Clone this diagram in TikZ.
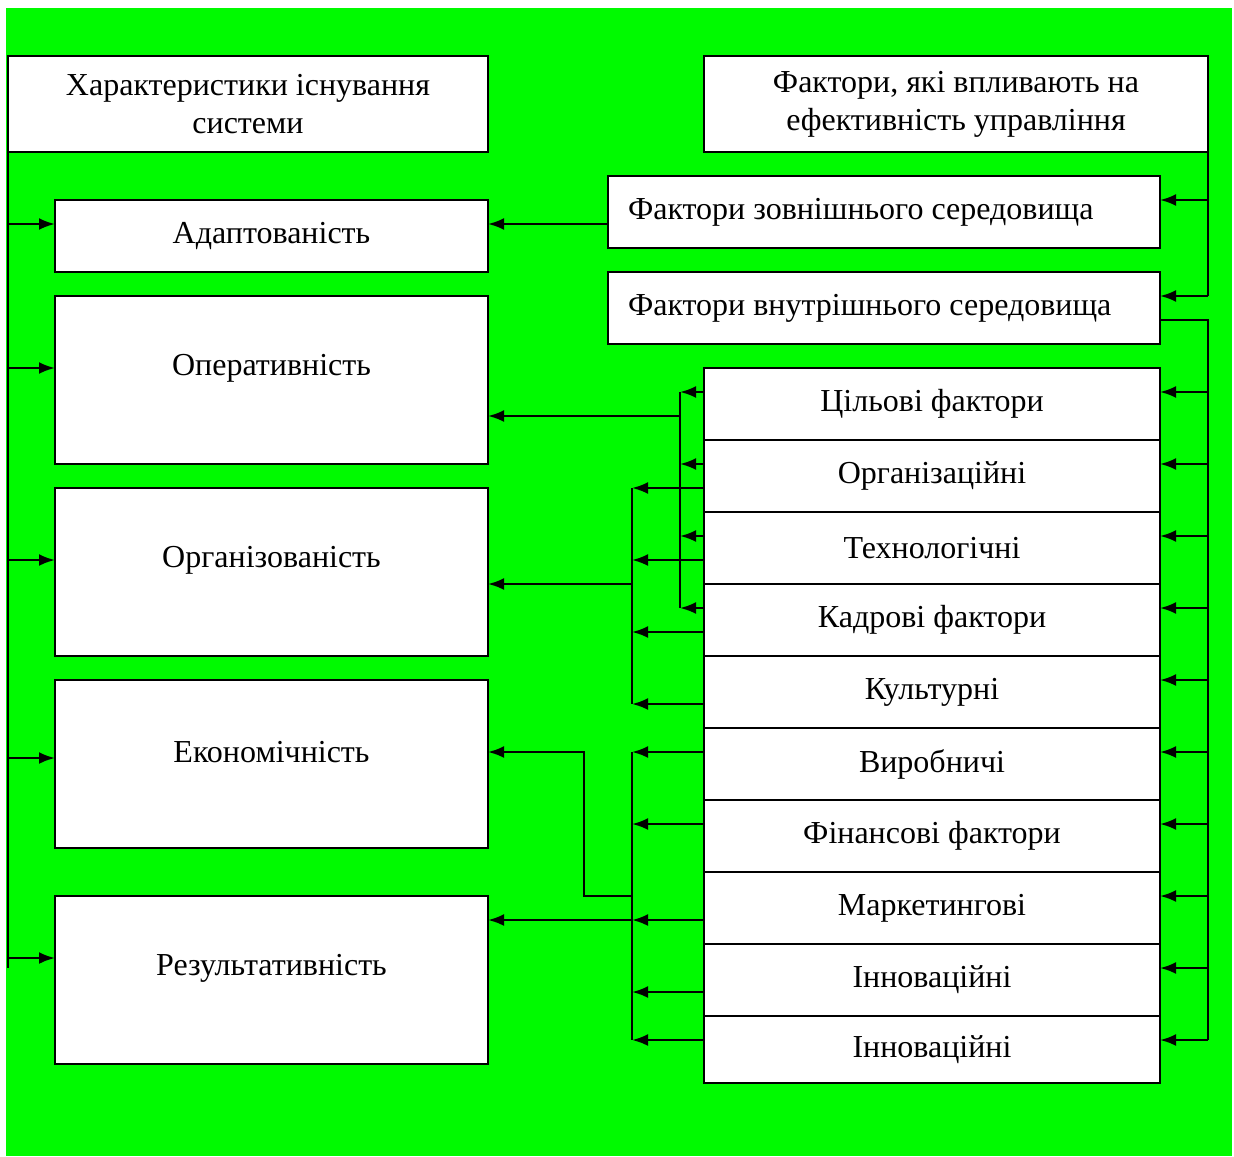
\documentclass[tikz,border=0pt]{standalone}
\usepackage{fontspec}
\setmainfont{Liberation Serif}
\usetikzlibrary{ positioning, % For the stacked factor boxes
                 arrows.meta,
               }
\definecolor{bggreen}{RGB}{0,250,0}
\tikzstyle{box} = [rectangle, draw=black, fill=white, line width=1.2pt, outer sep=0pt, align=center, font=\fontsize{16}{19}\selectfont]
\tikzstyle{title} = [box, minimum height=48pt]
\tikzstyle{prop} = [box, minimum width=216.5pt]
\tikzstyle{env} = [box, minimum height=36pt, text width=256pt, inner xsep=10pt, align=flush left]
\tikzstyle{factor} = [box, minimum width=228pt, minimum height=36pt]
\tikzstyle{proptext} = [anchor=center, yshift=-36pt, font=\fontsize{16}{19}\selectfont]
\tikzstyle{line} = [line width=1.2pt]
\tikzstyle{conn} = [line, ->, >={Latex[length=8pt,width=6pt]}]

\begin{document}
\begin{tikzpicture}[x=0.5pt, y=-0.5pt]
  \useasboundingbox (0,0) rectangle (1234,1156);
  \fill[white] (0,0) rectangle (1234,1156);
  \fill[bggreen] (6,8) rectangle (1232,1156);

  % left column: characteristics
  \node (tl) [title, minimum width=240pt] at (248,104) {Характеристики існування\\системи};
  \node (ad) [prop, minimum height=36pt] at (271.5,236) {Адаптованість};
  \node (op) [prop, minimum height=84pt, label={[proptext]north:Оперативність}] at (271.5,380) {};
  \node (og) [prop, minimum height=84pt, label={[proptext]north:Організованість}] at (271.5,572) {};
  \node (ec) [prop, minimum height=84pt, label={[proptext]north:Економічність}] at (271.5,764) {};
  \node (rz) [prop, minimum height=84pt, label={[proptext]north:Результативність}] at (271.5,980) {};

  % right column: factors
  \node (tr) [title, minimum width=252pt] at (956,104) {Фактори, які впливають на\\ефективність управління};
  \node (ext) [env] at (884,212) {Фактори зовнішнього середовища};
  \node (int) [env] at (884,308) {Фактори внутрішнього середовища};
  \node (f1) [factor] at (932,404) {Цільові фактори};
  \node (f2) [factor, below=0pt of f1] {Організаційні};
  \node (f3) [factor, below=0pt of f2] {Технологічні};
  \node (f4) [factor, below=0pt of f3] {Кадрові фактори};
  \node (f5) [factor, below=0pt of f4] {Культурні};
  \node (f6) [factor, below=0pt of f5] {Виробничі};
  \node (f7) [factor, below=0pt of f6] {Фінансові фактори};
  \node (f8) [factor, below=0pt of f7] {Маркетингові};
  \node (f9) [factor, below=0pt of f8] {Інноваційні};
  \node (f10) [factor, below=0pt of f9, minimum height=33.5pt] {Інноваційні};

  % left bus
  \coordinate (lend) at (8,968);
  \draw [line] (tl.south west) -- (lend);
  \draw [conn] ([xshift=-23.5pt,yshift=-12pt]ad.north west) -- ([yshift=-12pt]ad.north west);
  \draw [conn] ([xshift=-23.5pt,yshift=-36pt]op.north west) -- ([yshift=-36pt]op.north west);
  \draw [conn] ([xshift=-23.5pt,yshift=-36pt]og.north west) -- ([yshift=-36pt]og.north west);
  \draw [conn] ([xshift=-23.5pt,yshift=-39pt]ec.north west) -- ([yshift=-39pt]ec.north west);
  \draw [conn] ([xshift=-23.5pt,yshift=-31pt]rz.north west) -- ([yshift=-31pt]rz.north west);

  % right buses
  \draw [line] (tr.south east) -- ([xshift=24pt,yshift=-12pt]int.north east);
  \draw [conn] ([xshift=24pt,yshift=-12pt]ext.north east) -- ([yshift=-12pt]ext.north east);
  \draw [conn] ([xshift=24pt,yshift=-12pt]int.north east) -- ([yshift=-12pt]int.north east);
  \draw [line] ([yshift=-24pt]int.north east) -| ([xshift=24pt,yshift=-12pt]f10.north east);
  \draw [conn] ([xshift=24pt,yshift=-12pt]f1.north east) -- ([yshift=-12pt]f1.north east);
  \draw [conn] ([xshift=24pt,yshift=-12pt]f2.north east) -- ([yshift=-12pt]f2.north east);
  \draw [conn] ([xshift=24pt,yshift=-12pt]f3.north east) -- ([yshift=-12pt]f3.north east);
  \draw [conn] ([xshift=24pt,yshift=-12pt]f4.north east) -- ([yshift=-12pt]f4.north east);
  \draw [conn] ([xshift=24pt,yshift=-12pt]f5.north east) -- ([yshift=-12pt]f5.north east);
  \draw [conn] ([xshift=24pt,yshift=-12pt]f6.north east) -- ([yshift=-12pt]f6.north east);
  \draw [conn] ([xshift=24pt,yshift=-12pt]f7.north east) -- ([yshift=-12pt]f7.north east);
  \draw [conn] ([xshift=24pt,yshift=-12pt]f8.north east) -- ([yshift=-12pt]f8.north east);
  \draw [conn] ([xshift=24pt,yshift=-12pt]f9.north east) -- ([yshift=-12pt]f9.north east);
  \draw [conn] ([xshift=24pt,yshift=-12pt]f10.north east) -- ([yshift=-12pt]f10.north east);

  % external factors -> adaptability
  \draw [conn] ([yshift=-24pt]ext.north west) -- ([yshift=-12pt]ad.north east);

  % factors -> efficiency
  \draw [line] ([xshift=-12pt,yshift=-12pt]f1.north west) -- ([xshift=-12pt,yshift=-12pt]f4.north west);
  \draw [conn] ([yshift=-12pt]f1.north west) -- ([xshift=-12pt,yshift=-12pt]f1.north west);
  \draw [conn] ([yshift=-12pt]f2.north west) -- ([xshift=-12pt,yshift=-12pt]f2.north west);
  \draw [conn] ([yshift=-12pt]f3.north west) -- ([xshift=-12pt,yshift=-12pt]f3.north west);
  \draw [conn] ([yshift=-12pt]f4.north west) -- ([xshift=-12pt,yshift=-12pt]f4.north west);
  \draw [conn] ([xshift=-12pt,yshift=-12pt]f1.north west) |- ([yshift=-60pt]op.north east);

  % factors -> organisation
  \draw [line] ([xshift=-36pt,yshift=-24pt]f2.north west) -- ([xshift=-36pt,yshift=-24pt]f5.north west);
  \draw [conn] ([yshift=-24pt]f2.north west) -- ([xshift=-36pt,yshift=-24pt]f2.north west);
  \draw [conn] ([yshift=-24pt]f3.north west) -- ([xshift=-36pt,yshift=-24pt]f3.north west);
  \draw [conn] ([yshift=-24pt]f4.north west) -- ([xshift=-36pt,yshift=-24pt]f4.north west);
  \draw [conn] ([yshift=-24pt]f5.north west) -- ([xshift=-36pt,yshift=-24pt]f5.north west);
  \draw [conn] ([xshift=-36pt,yshift=-24pt]f2.north west) |- ([yshift=-48pt]og.north east);

  % factors -> economy and result
  \draw [line] ([xshift=-36pt,yshift=-12pt]f6.north west) -- ([xshift=-36pt,yshift=-12pt]f10.north west);
  \draw [conn] ([yshift=-12pt]f6.north west) -- ([xshift=-36pt,yshift=-12pt]f6.north west);
  \draw [conn] ([yshift=-12pt]f7.north west) -- ([xshift=-36pt,yshift=-12pt]f7.north west);
  \draw [conn] ([yshift=-24pt]f8.north west) -- ([xshift=-36pt,yshift=-24pt]f8.north west);
  \draw [conn] ([yshift=-24pt]f9.north west) -- ([xshift=-36pt,yshift=-24pt]f9.north west);
  \draw [conn] ([yshift=-12pt]f10.north west) -- ([xshift=-36pt,yshift=-12pt]f10.north west);
  \draw [conn] ([xshift=-36pt,yshift=-12pt]f8.north west) -- ++(-24pt,0) |- ([yshift=-36pt]ec.north east);
  \draw [conn] ([xshift=-36pt,yshift=-24pt]f8.north west) -- ([yshift=-12pt]rz.north east);
\end{tikzpicture}
\end{document}
